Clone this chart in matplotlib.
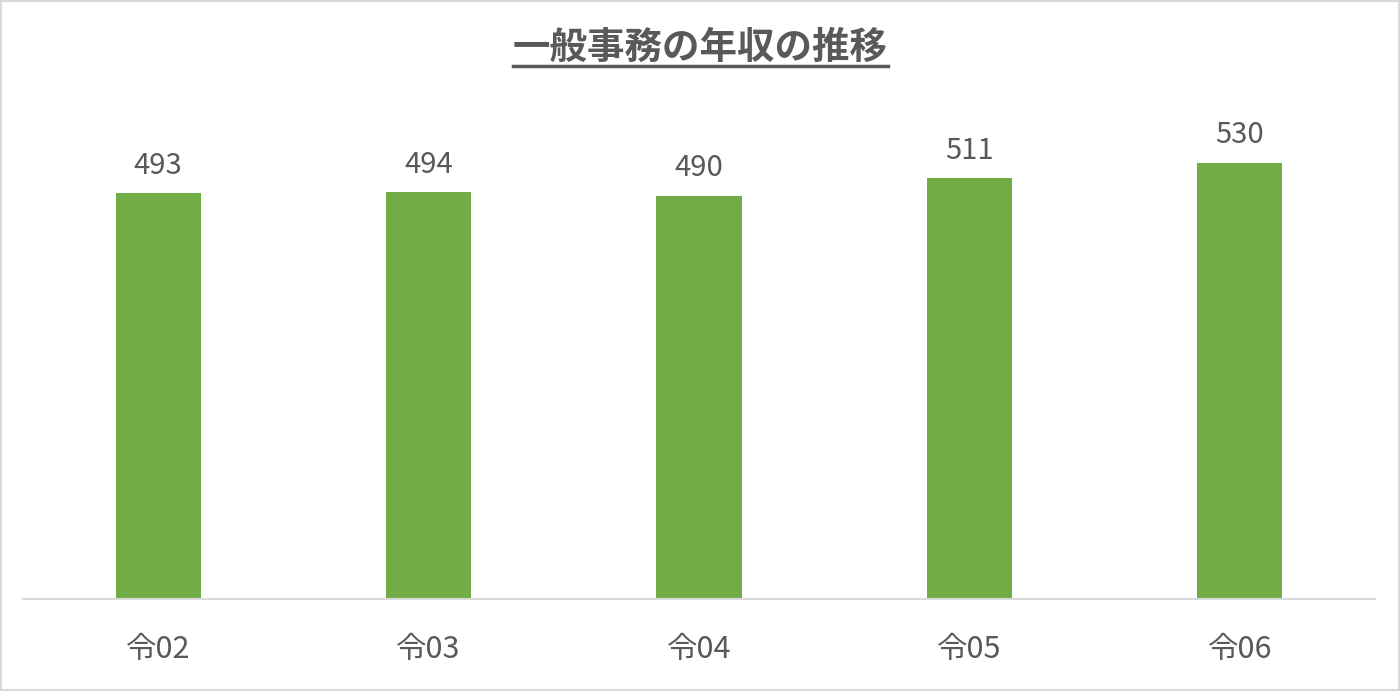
import matplotlib
matplotlib.use("Agg")
import matplotlib.pyplot as plt
from matplotlib.lines import Line2D
from matplotlib.patches import Rectangle

plt.rcParams['font.family'] = ['Noto Sans CJK JP', 'DejaVu Sans']

# data
years = ["令02", "令03", "令04", "令05", "令06"]
salary = [493, 494, 490, 511, 530]

title = "一般事務の年収の推移"
bar_color = "#70AD47"
text_color = "#595959"
grid_color = "#D9D9D9"

fig = plt.figure(figsize=(14, 6.91), dpi=100)
ax = fig.add_axes([23 / 1400, 92 / 691, 1352 / 1400, 494 / 691])

x = range(len(years))
ax.bar(x, salary, width=0.315, color=bar_color, zorder=2)
ax.set_xlim(-0.5, len(years) - 0.5)
ax.set_ylim(0, 600)

for xi, v in zip(x, salary):
    ax.annotate(str(v), (xi, v), xytext=(0, 9), textcoords="offset points",
                ha="center", va="bottom", fontsize=21, color=text_color)

ax.set_xticks(list(x))
ax.set_xticklabels(years, fontsize=22, color=text_color)
ax.tick_params(axis="x", length=0, pad=25)
ax.set_yticks([])
for s in ["top", "right", "left"]:
    ax.spines[s].set_visible(False)
ax.spines["bottom"].set_color(grid_color)
ax.spines["bottom"].set_linewidth(1.5)

# title with underline
t = fig.text(0.5, 1 - 47 / 691, title, ha="center", va="center",
             fontsize=27, fontweight="bold", color=text_color)
fig.canvas.draw()
bb = t.get_window_extent()
uy = 1 - 66 / 691
fig.add_artist(Line2D([bb.x0 / 1400, bb.x1 / 1400], [uy, uy],
                      color=text_color, linewidth=2.5))

# outer border
fig.add_artist(Rectangle((0.001, 0.002), 0.998, 0.996, transform=fig.transFigure,
                         fill=False, edgecolor=grid_color, linewidth=1.5))

fig.savefig("out.png", dpi=100)
